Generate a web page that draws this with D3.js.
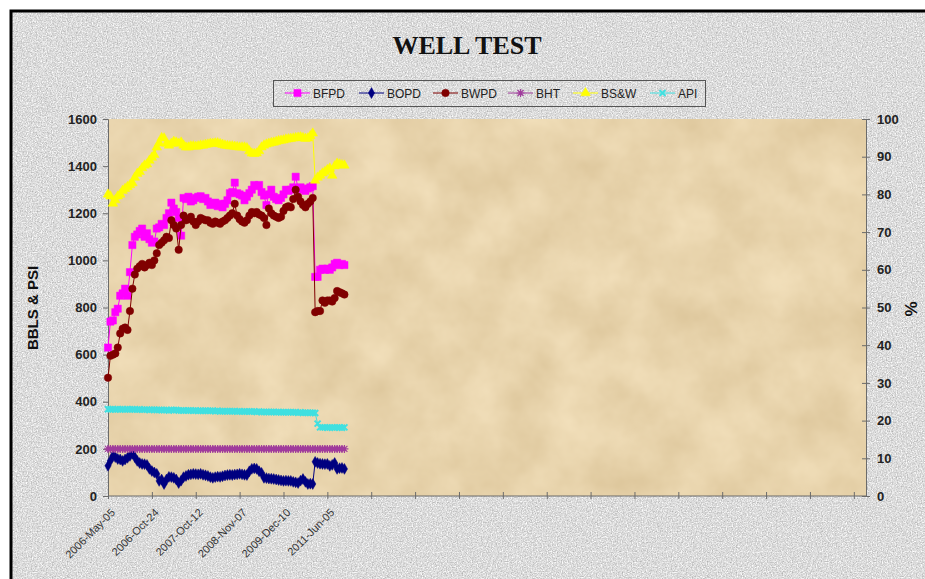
<!DOCTYPE html>
<html>
<head>
<meta charset="utf-8">
<title>Well Test</title>
<script src="https://d3js.org/d3.v7.min.js"></script>
<style>
  body { margin: 0; background: #fff; }
  svg { display: block; font-family: Arial, "Liberation Sans", sans-serif; }
</style>
</head>
<body>
<script>

// category axis: 312 slots, a tick every 18 slots, only the first six are labelled
var categoryCount = 312;
var tickEvery = 18;
var tickLabels = ["2006-May-05", "2006-Oct-24", "2007-Oct-12", "2008-Nov-07", "2009-Dec-10", "2011-Jun-05"];

// left axis series (BBLS & PSI)
var bfpd = [630,740,745,780,795,850,860,880,850,950,1065,1100,1110,1125,1135,1100,1115,1090,1075,1080,
  1135,1140,1155,1150,1180,1200,1245,1220,1205,1180,1105,1265,1260,1270,1250,1255,1265,1270,1272,1260,
  1265,1250,1235,1240,1245,1230,1240,1225,1240,1255,1285,1290,1330,1285,1280,1275,1255,1270,1285,1300,
  1320,1315,1320,1290,1275,1235,1280,1300,1270,1260,1255,1265,1280,1300,1295,1300,1310,1355,1305,1310,
  1300,1295,1305,1310,1315,930,930,960,965,960,965,960,970,985,990,980,985,980];

var bopd = [128,150,170,165,157,155,149,155,162,170,179,165,149,140,136,135,132,115,106,100,
  94,64,70,51,70,81,80,77,70,55,65,80,85,90,92,94,93,92,94,90,
  88,85,80,77,80,82,81,84,87,89,90,89,91,92,94,92,90,89,105,115,
  117,115,105,98,77,76,74,73,72,70,68,66,64,65,64,64,60,58,55,65,
  72,60,51,52,51,145,140,137,136,135,136,128,132,140,115,118,119,115];

var bwpd = [502,595,600,605,630,690,710,715,705,785,880,940,965,975,985,970,980,990,980,1000,
  1030,1065,1075,1085,1100,1095,1170,1150,1135,1045,1150,1190,1170,1175,1185,1165,1150,1165,1180,1175,
  1170,1170,1160,1155,1165,1160,1155,1165,1170,1180,1190,1200,1240,1190,1175,1165,1160,1170,1190,1205,
  1200,1205,1195,1190,1180,1150,1220,1200,1190,1185,1180,1185,1210,1225,1230,1225,1260,1300,1270,1250,
  1235,1225,1240,1250,1265,780,785,785,830,820,830,830,825,840,870,865,860,855];

var bht = [200,200,200,200,200,200,200,200,200,200,200,200,200,200,200,200,200,200,200,200,
  200,200,200,200,200,200,200,200,200,200,200,200,200,200,200,200,200,200,200,200,
  200,200,200,200,200,200,200,200,200,200,200,200,200,200,200,200,200,200,200,200,
  200,200,200,200,200,200,200,200,200,200,200,200,200,200,200,200,200,200,200,200,
  200,200,200,200,200,200,200,200,200,200,200,200,200,200,200,200,200,200];

// right axis series (%)
var bsw = [80.0,79.5,77.6,78.5,79.5,80.0,81.0,81.5,82.0,82.5,83.0,84.5,85.5,86.0,87.0,87.7,88.0,89.0,89.8,90.5,
  92.5,93.6,95.0,94.9,93.5,93.0,93.5,94.0,93.8,93.5,93.8,93.0,92.5,92.5,92.8,92.8,92.7,92.8,93.0,93.0,
  93.2,93.3,93.5,93.5,93.6,93.6,93.4,93.2,93.0,92.9,92.8,92.8,92.7,92.6,92.5,92.5,92.5,92.3,91.5,90.9,
  90.8,90.9,91.5,92.5,93.0,93.3,93.5,93.7,93.8,94.0,94.2,94.3,94.4,94.6,94.7,94.8,94.9,95.0,95.1,95.2,
  95.0,94.8,94.9,95.5,96.2,83.7,84.5,85.0,85.6,86.0,86.5,86.9,85.0,87.5,88.2,88.0,87.8,87.7];

var api = [23.0,23.0,23.0,22.9,23.0,23.0,23.0,22.9,23.0,23.0,23.0,22.9,22.9,23.0,22.9,22.9,22.9,22.8,22.9,22.9,
  22.8,22.8,22.8,22.8,22.8,22.7,22.8,22.8,22.8,22.7,22.7,22.7,22.7,22.7,22.7,22.6,22.7,22.6,22.6,22.6,
  22.6,22.6,22.6,22.6,22.5,22.6,22.5,22.5,22.5,22.5,22.5,22.5,22.5,22.4,22.5,22.4,22.4,22.4,22.4,22.4,
  22.4,22.3,22.4,22.3,22.3,22.3,22.3,22.3,22.3,22.2,22.3,22.2,22.2,22.2,22.2,22.2,22.2,22.2,22.1,22.2,
  22.1,22.1,22.1,22.1,22.1,22.0,19.2,18.2,18.2,18.2,18.1,18.2,18.2,18.1,18.2,18.2,18.1,18.2];

var W = 925, H = 579;
var svg = d3.select("body").append("svg").attr("width", W).attr("height", H);

var defs = svg.append("defs");
var granite = defs.append("filter").attr("id", "granite")
  .attr("x", 0).attr("y", 0).attr("width", 1).attr("height", 1)
  .attr("color-interpolation-filters", "sRGB");
granite.append("feTurbulence").attr("type", "fractalNoise").attr("baseFrequency", 0.8)
  .attr("numOctaves", 3).attr("seed", 4);
granite.append("feColorMatrix").attr("type", "matrix")
  .attr("values", "0.42 0 0 0 0.65  0.42 0 0 0 0.65  0.42 0 0 0 0.65  0 0 0 0 1");

var sand = defs.append("filter").attr("id", "sand")
  .attr("x", 0).attr("y", 0).attr("width", 1).attr("height", 1)
  .attr("color-interpolation-filters", "sRGB");
sand.append("feTurbulence").attr("type", "fractalNoise").attr("baseFrequency", 0.02)
  .attr("numOctaves", 4).attr("seed", 7);
sand.append("feColorMatrix").attr("type", "matrix")
  .attr("values", "0.1 0 0 0 0.86  0.12 0 0 0 0.77  0.15 0 0 0 0.6  0 0 0 0 1");

// outer frame
svg.append("rect").attr("x", 11).attr("y", 11).attr("width", 940).attr("height", 600)
  .attr("fill", "#d8d8d8").attr("filter", "url(#granite)");
svg.append("rect").attr("x", 11).attr("y", 11).attr("width", 940).attr("height", 600)
  .attr("fill", "none").attr("stroke", "#000").attr("stroke-width", 3);

var plotLeft = 108, plotRight = 866, plotTop = 119, plotBottom = 496;

var x = d3.scaleLinear().domain([0, categoryCount - 1]).range([plotLeft, plotRight]);
var yL = d3.scaleLinear().domain([0, 1600]).range([plotBottom, plotTop]);
var yR = d3.scaleLinear().domain([0, 100]).range([plotBottom, plotTop]);

svg.append("rect").attr("x", plotLeft).attr("y", plotTop)
  .attr("width", plotRight - plotLeft).attr("height", plotBottom - plotTop)
  .attr("fill", "#e8d2a5").attr("filter", "url(#sand)");

// title
svg.append("text").attr("x", 467).attr("y", 54).attr("text-anchor", "middle")
  .style("font-family", "'Liberation Serif', 'Times New Roman', serif")
  .style("font-weight", "bold").style("font-size", "26px").attr("fill", "#111")
  .text("WELL TEST");

// axes
var axisColor = "#6b6b6b";
var gL = svg.append("g").attr("transform", "translate(" + plotLeft + ",0)")
  .call(d3.axisLeft(yL).tickValues(d3.range(0, 1601, 200)).tickFormat(d3.format("d"))
    .tickSize(5).tickPadding(6));
var gR = svg.append("g").attr("transform", "translate(" + plotRight + ",0)")
  .call(d3.axisRight(yR).tickValues(d3.range(0, 101, 10)).tickFormat(d3.format("d"))
    .tickSize(4).tickPadding(7));
gR.selectAll(".tick line").attr("x1", -4);

var xTicks = d3.range(0, categoryCount, tickEvery);
var gB = svg.append("g").attr("transform", "translate(0," + plotBottom + ")")
  .call(d3.axisBottom(x).tickValues(xTicks).tickSize(3)
    .tickFormat(function(d, i) { return tickLabels[i] || ""; }));
gB.selectAll(".tick line").attr("y1", -4);
gB.select(".domain").attr("d", "M" + plotLeft + ",0H" + plotRight);
gB.selectAll(".tick text")
  .attr("text-anchor", "end").attr("dx", 0).attr("dy", 0)
  .attr("transform", "translate(3,13) rotate(-45)")
  .style("font-size", "11px").style("font-weight", "normal").attr("fill", "#333");

[gL, gR, gB].forEach(function(g) {
  g.select(".domain").attr("stroke", axisColor);
  g.selectAll(".tick line").attr("stroke", axisColor);
});
[gL, gR].forEach(function(g) {
  g.selectAll(".tick text").style("font-size", "13px").style("font-weight", "bold").attr("fill", "#222");
});

svg.append("text").attr("transform", "translate(38,308) rotate(-90)").attr("text-anchor", "middle")
  .style("font-size", "15px").style("font-weight", "bold").attr("fill", "#111").text("BBLS & PSI");
svg.append("text").attr("transform", "translate(917,309) rotate(-90)").attr("text-anchor", "middle")
  .style("font-size", "17px").style("font-weight", "bold").attr("fill", "#111").text("%");

// series
var star = "M-3,-3L3,3M-3,3L3,-3M0,-4L0,4M-4,0L4,0";
var series = [
  { name: "BFPD", values: bfpd, y: yL, color: "#ff00ff", shape: d3.symbolSquare, size: 52 },
  { name: "BOPD", values: bopd, y: yL, color: "#000080", shape: d3.symbolDiamond, size: 34 },
  { name: "BWPD", values: bwpd, y: yL, color: "#800000", shape: d3.symbolCircle, size: 44 },
  { name: "BHT", values: bht, y: yL, color: "#a03c9c", shape: null },
  { name: "BS&W", values: bsw, y: yR, color: "#ffff00", shape: d3.symbolTriangle, size: 40 },
  { name: "API", values: api, y: yR, color: "#40e0e0", shape: null, cross: true }
];

function drawMarker(g, s) {
  if (s.shape) {
    g.append("path").attr("d", d3.symbol().type(s.shape).size(s.size)())
      .attr("fill", s.color).attr("stroke", s.color).attr("stroke-width", 0.5);
  } else if (s.cross) {
    g.append("path").attr("d", "M-3,-3L3,3M-3,3L3,-3").attr("stroke", s.color).attr("stroke-width", 2);
  } else {
    g.append("path").attr("d", star).attr("stroke", s.color).attr("stroke-width", 1.2);
  }
}

series.forEach(function(s) {
  var line = d3.line().x(function(d, i) { return x(i); }).y(function(d) { return s.y(d); });
  svg.append("path").datum(s.values).attr("d", line)
    .attr("fill", "none").attr("stroke", s.color).attr("stroke-width", 1);
  svg.append("g").selectAll("g").data(s.values).enter().append("g")
    .attr("transform", function(d, i) { return "translate(" + x(i) + "," + s.y(d) + ")"; })
    .each(function() { drawMarker(d3.select(this), s); });
});

// legend
var legend = svg.append("g");
legend.append("rect").attr("x", 273.5).attr("y", 80.5).attr("width", 432).attr("height", 26)
  .attr("fill", "none").attr("stroke", "#555").attr("stroke-width", 1);
var legendX = [285, 359, 433, 508, 573, 650];
series.forEach(function(s, i) {
  var lx = legendX[i];
  legend.append("line").attr("x1", lx).attr("x2", lx + 25).attr("y1", 93).attr("y2", 93)
    .attr("stroke", s.color).attr("stroke-width", 1);
  drawMarker(legend.append("g").attr("transform", "translate(" + (lx + 12.5) + ",93)"), s);
  legend.append("text").attr("x", lx + 28).attr("y", 97.5)
    .style("font-size", "12px").attr("fill", "#222").text(s.name);
});

</script>
</body>
</html>
